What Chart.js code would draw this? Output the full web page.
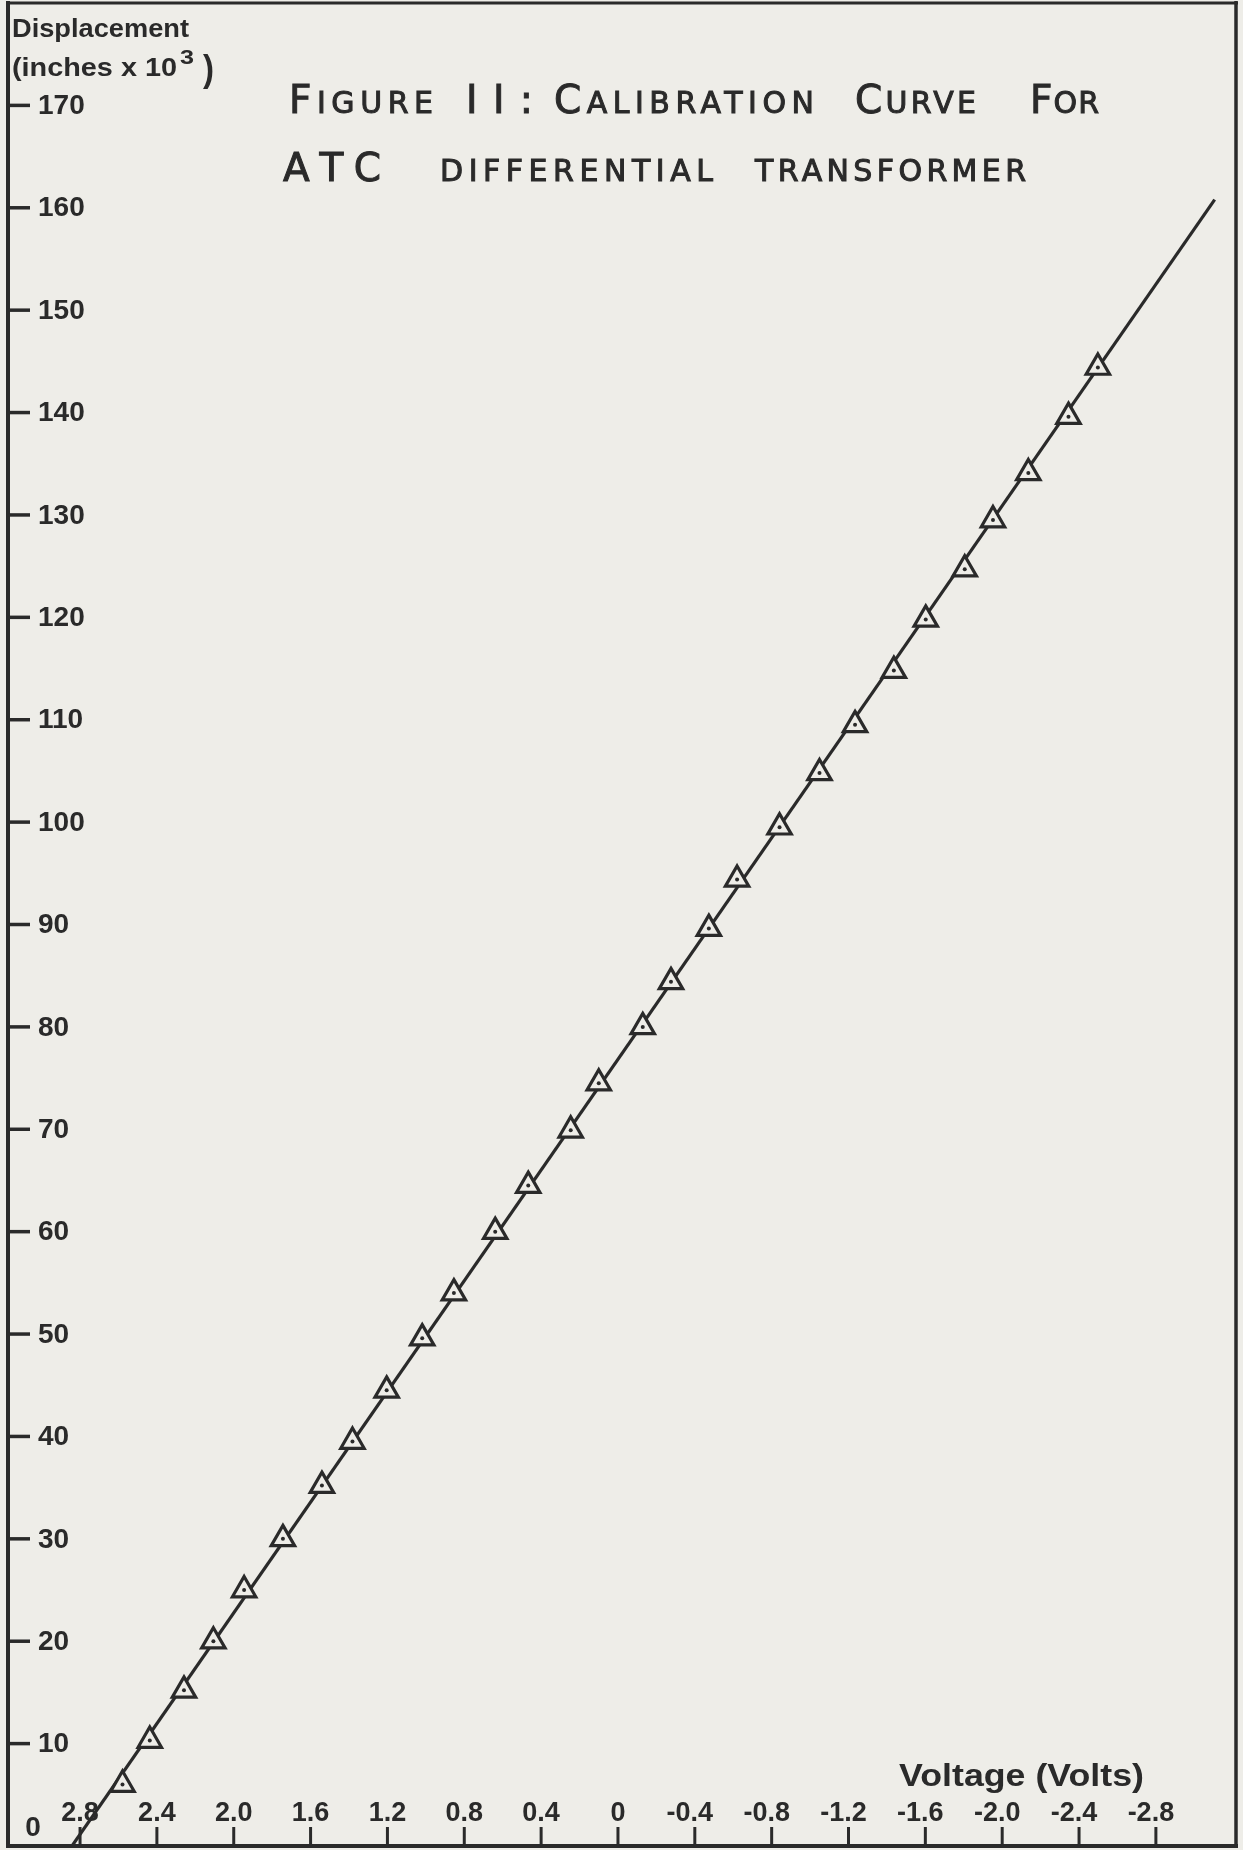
<!DOCTYPE html>
<html>
<head>
<meta charset="utf-8">
<script src="https://cdn.jsdelivr.net/npm/chart.js@4.4.1/dist/chart.umd.min.js"></script>
<style>
  html, body { margin: 0; padding: 0; background: #eeede8; }
  canvas { display: block; }
</style>
</head>
<body>
<canvas id="c" width="1243" height="1850"></canvas>
<script>
// ---- data ----
const voltage = [2.579, 2.437, 2.259, 2.106, 1.946, 1.744, 1.541, 1.382, 1.204, 1.019,
                 0.854, 0.639, 0.467, 0.246, 0.100, -0.129, -0.276, -0.473, -0.620, -0.841,
                 -1.049, -1.234, -1.436, -1.602, -1.805, -1.952, -2.136, -2.345, -2.498];
const displacement = [6, 10.3, 15.2, 20, 25, 30, 35.2, 39.5, 44.5, 49.6,
                      54, 60, 64.5, 69.9, 74.5, 80, 84.4, 89.6, 94.4, 99.5,
                      104.8, 109.5, 114.8, 119.8, 124.7, 129.5, 134.1, 139.6, 144.4];
const fitVoltage = [2.842, -3.106];
const fitDisplacement = [0, 160.8];

const xTickValues = [2.8, 2.4, 2.0, 1.6, 1.2, 0.8, 0.4, 0, -0.4, -0.8, -1.2, -1.6, -2.0, -2.4, -2.8];
const xTickLabels = ["2.8", "2.4", "2.0", "1.6", "1.2", "0.8", "0.4", "0", "-0.4", "-0.8", "-1.2", "-1.6", "-2.0", "-2.4", "-2.8"];
const yTickValues = [10, 20, 30, 40, 50, 60, 70, 80, 90, 100, 110, 120, 130, 140, 150, 160, 170];
const yTickLabels = ["10", "20", "30", "40", "50", "60", "70", "80", "90", "100", "110", "120", "130", "140", "150", "160", "170"];

const titleLine1 = ["FIGURE", "II:", "CALIBRATION", "CURVE", "FOR"];
const titleLine1Big = [1, 3, 1, 1, 1];
const titleLine2 = ["ATC", "DIFFERENTIAL", "TRANSFORMER"];
const titleLine2Big = [3, 0, 0];
const yAxisTitle1 = "Displacement";
const yAxisTitle2 = ["(inches x 10", "3", ")"];
const xAxisTitle = "Voltage (Volts)";
const originLabel = "0";

// ---- style ----
const INK = '#2a2a2a';
const PAPER = '#eeede8';
const FONT = '"DejaVu Sans", "Liberation Sans", sans-serif';
const TFONT = '"Liberation Sans", Arial, sans-serif';

function fitText(ctx, text, x, baseline, width, font) {
  ctx.font = font;
  const w = ctx.measureText(text).width;
  ctx.save();
  ctx.translate(x, baseline);
  ctx.scale(width / w, 1);
  ctx.textAlign = 'left';
  ctx.textBaseline = 'alphabetic';
  ctx.fillText(text, 0, 0);
  ctx.restore();
}

function capsWord(ctx, word, nBig, x, baseline, width, bigFont, smallFont) {
  const big = word.slice(0, nBig), small = word.slice(nBig);
  ctx.save();
  ctx.textAlign = 'left';
  ctx.textBaseline = 'alphabetic';
  const hasLS = ('letterSpacing' in ctx);
  if (hasLS) ctx.letterSpacing = '0px';
  ctx.font = bigFont; const wb = big ? ctx.measureText(big).width : 0;
  ctx.font = smallFont; const ws = small ? ctx.measureText(small).width : 0;
  const n = word.length;
  let ls = n > 1 ? (width - wb - ws) / (n - 1) : 0;
  let sx = 1;
  if (!hasLS || ls < 0) { sx = width / (wb + ws); ls = 0; }
  ctx.translate(x, baseline);
  ctx.scale(sx, 1);
  ctx.lineWidth = 1;
  ctx.strokeStyle = INK;
  if (hasLS) ctx.letterSpacing = ls + 'px';
  if (big) { ctx.font = bigFont; ctx.fillText(big, 0, 0); ctx.strokeText(big, 0, 0); }
  const off = wb + ls * big.length;
  if (small) { ctx.font = smallFont; ctx.fillText(small, off, 0); ctx.strokeText(small, off, 0); }
  ctx.restore();
}

const figurePlugin = {
  id: 'figure',
  beforeDraw(chart) {
    const ctx = chart.ctx;
    ctx.save();
    ctx.fillStyle = PAPER;
    ctx.fillRect(0, 0, chart.width, chart.height);
    ctx.restore();
  },
  afterDatasetsDraw(chart) {
    const ctx = chart.ctx;
    const a = chart.chartArea;
    const xs = chart.scales.x, ys = chart.scales.y;
    ctx.save();
    ctx.strokeStyle = INK;
    ctx.fillStyle = INK;
    ctx.lineCap = 'butt';

    // frame
    ctx.lineWidth = 4;
    ctx.beginPath(); ctx.moveTo(a.left, a.top - 2); ctx.lineTo(a.left, a.bottom + 2); ctx.stroke();
    ctx.beginPath(); ctx.moveTo(a.left - 2, a.bottom); ctx.lineTo(a.right + 2, a.bottom); ctx.stroke();
    ctx.lineWidth = 3;
    ctx.beginPath(); ctx.moveTo(a.left - 2, a.top); ctx.lineTo(a.right + 2, a.top); ctx.stroke();
    ctx.lineWidth = 3.5;
    ctx.beginPath(); ctx.moveTo(a.right, a.top - 2); ctx.lineTo(a.right, a.bottom + 2); ctx.stroke();

    // y ticks (inside)
    ctx.lineWidth = 3.5;
    ctx.font = 'bold 28px ' + TFONT;
    ctx.textAlign = 'left';
    ctx.textBaseline = 'middle';
    yTickValues.forEach((v, i) => {
      const py = ys.getPixelForValue(v);
      ctx.beginPath(); ctx.moveTo(a.left, py); ctx.lineTo(a.left + 22, py); ctx.stroke();
      ctx.fillText(yTickLabels[i], a.left + 30, py + 1);
    });

    // x ticks (inside)
    ctx.lineWidth = 3;
    ctx.font = 'bold 27px ' + TFONT;
    ctx.textAlign = 'center';
    ctx.textBaseline = 'alphabetic';
    xTickValues.forEach((v, i) => {
      const px = xs.getPixelForValue(v);
      ctx.beginPath(); ctx.moveTo(px, a.bottom); ctx.lineTo(px, a.bottom - 19); ctx.stroke();
      const lbl = xTickLabels[i];
      const off = lbl.startsWith('-') ? -5 : 0;
      ctx.fillText(lbl, px + off, a.bottom - 25);
    });

    // origin label
    ctx.font = 'bold 28px ' + TFONT;
    ctx.textAlign = 'center';
    ctx.textBaseline = 'middle';
    ctx.fillText(originLabel, 33, 1828);

    // axis titles
    fitText(ctx, yAxisTitle1, 12, 37, 177, 'bold 25px ' + TFONT);
    fitText(ctx, yAxisTitle2[0], 12, 76, 165, 'bold 26px ' + TFONT);
    fitText(ctx, yAxisTitle2[1], 180, 64, 14, 'bold 21px ' + TFONT);
    fitText(ctx, yAxisTitle2[2], 203, 81, 11, 'bold 36px ' + TFONT);
    fitText(ctx, xAxisTitle, 899, 1786, 245, 'bold 31px ' + TFONT);

    // title
    ctx.fillStyle = INK;
    const l1x = [289, 466, 554, 855, 1030];
    const l1w = [144, 67, 260, 121, 69];
    titleLine1.forEach((w, i) => capsWord(ctx, w, titleLine1Big[i], l1x[i], 113, l1w[i],
      '39px ' + FONT, '30px ' + FONT));
    const l2x = [283, 440, 755];
    const l2w = [98, 273, 271];
    titleLine2.forEach((w, i) => capsWord(ctx, w, titleLine2Big[i], l2x[i], 181, l2w[i],
      '39px ' + FONT, '30px ' + FONT));

    ctx.restore();
  }
};

const points = voltage.map((v, i) => ({ x: v, y: displacement[i] }));
const fitLine = fitVoltage.map((v, i) => ({ x: v, y: fitDisplacement[i] }));

new Chart(document.getElementById('c'), {
  type: 'scatter',
  data: {
    datasets: [
      {
        label: 'fit',
        data: fitLine,
        showLine: true,
        borderColor: INK,
        borderWidth: 3.2,
        pointRadius: 0,
        order: 3
      },
      {
        label: 'measured',
        data: points,
        pointStyle: 'triangle',
        pointRadius: 13.5,
        pointBackgroundColor: PAPER,
        pointBorderColor: INK,
        pointBorderWidth: 3.2,
        order: 2
      },
      {
        label: 'centres',
        data: points,
        pointStyle: 'circle',
        pointRadius: 2,
        pointBackgroundColor: INK,
        pointBorderWidth: 0,
        order: 1
      }
    ]
  },
  options: {
    responsive: false,
    animation: false,
    devicePixelRatio: 1,
    layout: { autoPadding: false, padding: { left: 8, top: 3, right: 7, bottom: 4 } },
    plugins: { legend: { display: false }, tooltip: { enabled: false }, title: { display: false } },
    scales: {
      x: { type: 'linear', reverse: true, min: -3.217, max: 3.175, display: false },
      y: { type: 'linear', min: 0, max: 180, display: false }
    }
  },
  plugins: [figurePlugin]
});
</script>
</body>
</html>
